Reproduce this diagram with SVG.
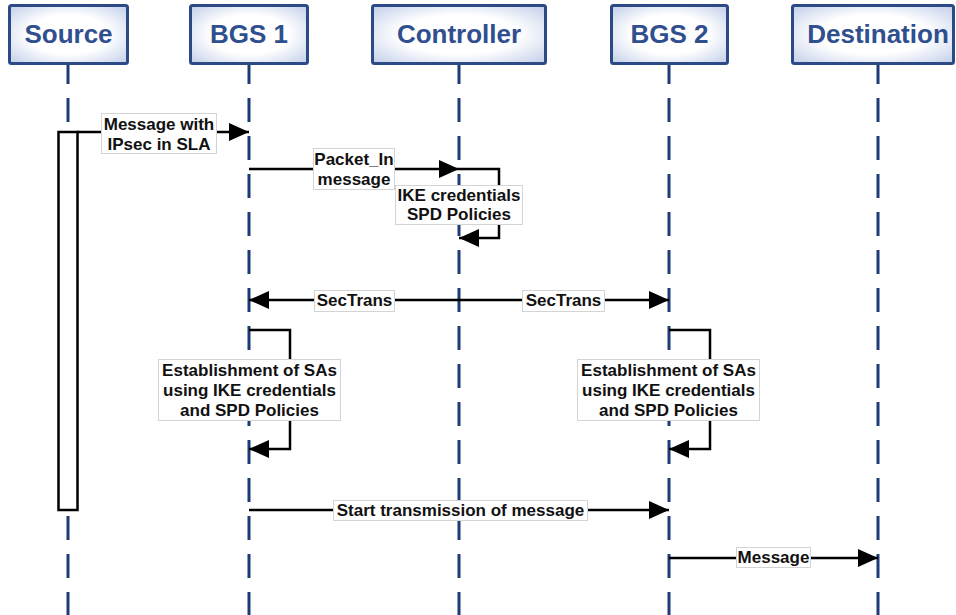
<svg xmlns="http://www.w3.org/2000/svg" width="956" height="615" viewBox="0 0 956 615">
  <style>
    .hbox { fill: url(#hgrad); stroke: #2b4a86; stroke-width: 3; }
    .htext { font-family: "Liberation Sans", Arial, sans-serif; font-weight: bold; font-size: 26px; fill: #2f4f8f; text-anchor: middle; }
    .life { stroke: #1f3a78; stroke-width: 3; stroke-dasharray: 24 14; fill: none; }
    .msg { stroke: #000; stroke-width: 2.5; fill: none; marker-end: url(#arr); }
    .lbox { fill: #fff; stroke: #d4d4d4; stroke-width: 1; }
    .ltext { font-family: "Liberation Sans", Arial, sans-serif; font-weight: bold; font-size: 17px; fill: #111; text-anchor: middle; }
  </style>
  <defs>
    <radialGradient id="hgrad" cx="0.5" cy="0.5" r="0.75">
      <stop offset="0.45" stop-color="#ffffff"/>
      <stop offset="1" stop-color="#b9c8e6"/>
    </radialGradient>
    <marker id="arr" markerUnits="userSpaceOnUse" viewBox="0 0 20 18" markerWidth="20" markerHeight="18" refX="20" refY="9" orient="auto">
      <path d="M0,0 L20,9 L0,18 z" fill="#000"/>
    </marker>
  </defs>
  <rect width="956" height="615" fill="#fff"/>

  <g id="source">
    <line class="life" x1="68" y1="60" x2="68" y2="615"/>
    <rect class="hbox" x="9.5" y="5.5" width="118" height="58" rx="2"/>
    <text class="htext" x="68.5" y="43">Source</text>
    <rect x="58.5" y="132" width="19" height="378" fill="#fff" stroke="#000" stroke-width="2.5"/>
  </g>
  <g id="bgs1">
    <line class="life" x1="249" y1="60" x2="249" y2="615"/>
    <rect class="hbox" x="190.5" y="5.5" width="117" height="58" rx="2"/>
    <text class="htext" x="249" y="43">BGS 1</text>
  </g>
  <g id="controller">
    <line class="life" x1="459" y1="60" x2="459" y2="615"/>
    <rect class="hbox" x="372.5" y="5.5" width="173" height="58" rx="2"/>
    <text class="htext" x="459" y="43">Controller</text>
  </g>
  <g id="bgs2">
    <line class="life" x1="669" y1="60" x2="669" y2="615"/>
    <rect class="hbox" x="611.5" y="5.5" width="116" height="58" rx="2"/>
    <text class="htext" x="669.5" y="43">BGS 2</text>
  </g>
  <g id="destination">
    <line class="life" x1="878" y1="60" x2="878" y2="615"/>
    <rect class="hbox" x="792.5" y="5.5" width="161" height="58" rx="2"/>
    <text class="htext" x="878" y="43">Destination</text>
  </g>

  <g id="connectors">
    <g id="m1">
      <line class="msg" x1="77" y1="132" x2="249" y2="132"/>
      <rect class="lbox" x="101.5" y="113.5" width="115" height="40"/>
      <text class="ltext" x="159" y="130">Message with</text>
      <text class="ltext" x="159" y="150">IPsec in SLA</text>
    </g>
    <g id="m2">
      <line class="msg" x1="249" y1="169" x2="459" y2="169"/>
      <rect class="lbox" x="313.5" y="148.5" width="81" height="41"/>
      <text class="ltext" x="354" y="165">Packet_In</text>
      <text class="ltext" x="354" y="185">message</text>
    </g>
    <g id="m3">
      <path class="msg" d="M459,169 H499 V238 H459"/>
      <rect class="lbox" x="395.5" y="185.5" width="127" height="39"/>
      <text class="ltext" x="459" y="201">IKE credentials</text>
      <text class="ltext" x="459" y="220">SPD Policies</text>
    </g>
    <g id="m4">
      <line class="msg" x1="459" y1="300" x2="249" y2="300"/>
      <rect class="lbox" x="314.5" y="290.5" width="80" height="21"/>
      <text class="ltext" x="354.5" y="306">SecTrans</text>
    </g>
    <g id="m5">
      <line class="msg" x1="459" y1="300" x2="669" y2="300"/>
      <rect class="lbox" x="522.5" y="290.5" width="82" height="21"/>
      <text class="ltext" x="563.5" y="306">SecTrans</text>
    </g>
    <g id="m6">
      <path class="msg" d="M249,330 H290 V449 H249"/>
      <rect class="lbox" x="158.5" y="359.5" width="182" height="61"/>
      <text class="ltext" x="249.5" y="376">Establishment of SAs</text>
      <text class="ltext" x="249.5" y="396">using IKE credentials</text>
      <text class="ltext" x="249.5" y="416">and SPD Policies</text>
    </g>
    <g id="m7">
      <path class="msg" d="M669,330 H710 V449 H669"/>
      <rect class="lbox" x="577.5" y="359.5" width="182" height="61"/>
      <text class="ltext" x="668.5" y="376">Establishment of SAs</text>
      <text class="ltext" x="668.5" y="396">using IKE credentials</text>
      <text class="ltext" x="668.5" y="416">and SPD Policies</text>
    </g>
    <g id="m8">
      <line class="msg" x1="249" y1="510" x2="669" y2="510"/>
      <rect class="lbox" x="333.5" y="500.5" width="254" height="20"/>
      <text class="ltext" x="460.5" y="516">Start transmission of message</text>
    </g>
    <g id="m9">
      <line class="msg" x1="669" y1="558" x2="878" y2="558"/>
      <rect class="lbox" x="736.5" y="547.5" width="74" height="20"/>
      <text class="ltext" x="773.5" y="563">Message</text>
    </g>
  </g>
</svg>
